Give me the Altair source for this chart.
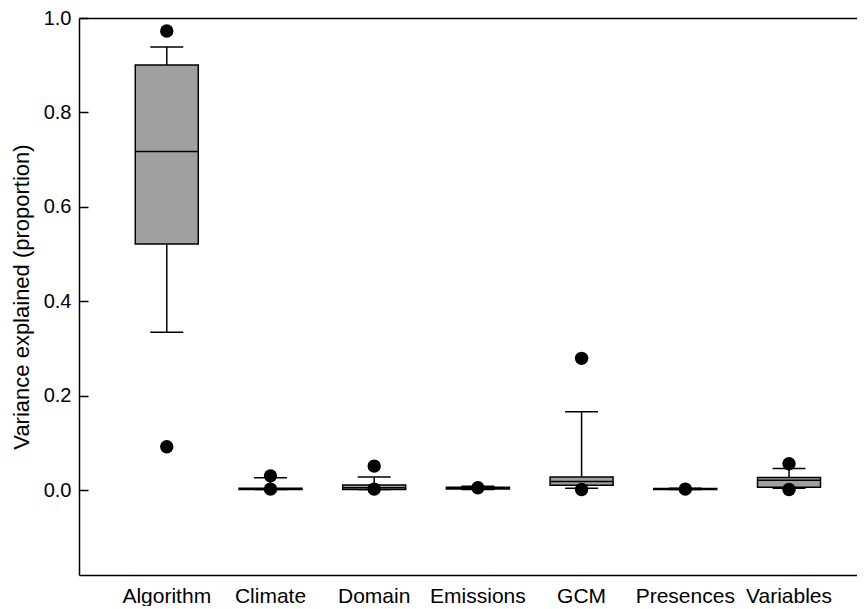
import altair as alt
import pandas as pd

categories = ["Algorithm", "Climate", "Domain", "Emissions", "GCM", "Presences", "Variables"]
lower_whisker = [0.334, 0.001, 0.001, 0.001, 0.0036, 0.001, 0.0036]
q1 = [0.521, 0.001, 0.001, 0.002, 0.0099, 0.001, 0.0057]
median = [0.717, 0.002, 0.005, 0.004, 0.018, 0.002, 0.0205]
q3 = [0.9006, 0.004, 0.0106, 0.006, 0.0275, 0.003, 0.0268]
upper_whisker = [0.9387, 0.026, 0.0275, 0.008, 0.166, 0.004, 0.0458]

outlier_category = ["Algorithm", "Algorithm", "Climate", "Climate", "Domain", "Domain",
                    "Emissions", "GCM", "GCM", "Presences", "Variables", "Variables"]
outlier_value = [0.9725, 0.0916, 0.030, 0.002, 0.0507, 0.002,
                 0.005, 0.279, 0.001, 0.002, 0.0556, 0.001]

y_ticks = [0.0, 0.2, 0.4, 0.6, 0.8, 1.0]

box_df = pd.DataFrame({
    "category": categories,
    "lower": lower_whisker,
    "q1": q1,
    "median": median,
    "q3": q3,
    "upper": upper_whisker,
})
out_df = pd.DataFrame({"category": outlier_category, "value": outlier_value})

FONT = "Liberation Sans"

xscale = alt.Scale(domain=categories, paddingInner=0, paddingOuter=0.251, align=0.69)
yscale = alt.Scale(domain=[-0.18, 1.0], nice=False, zero=False)

x_main = alt.X("category:N", scale=xscale, sort=categories,
               axis=alt.Axis(title=None, labelAngle=0, ticks=False, domainColor="black",
                             domainWidth=1.5, labelFontSize=21, labelPadding=10,
                             labelColor="black", labelFont=FONT))
x_top = alt.X("category:N", scale=xscale, sort=categories,
              axis=alt.Axis(orient="top", title=None, labels=False, ticks=False,
                            domainColor="black", domainWidth=1.5))
x_none = alt.X("category:N", scale=xscale, sort=categories, axis=None)

y_main_axis = alt.Axis(orient="left", title="Variance explained (proportion)", values=y_ticks,
                       format=".1f", ticks=False, domainColor="black", domainWidth=1.5,
                       labelFontSize=20, labelPadding=8, labelColor="black", labelFont=FONT,
                       titleFontSize=22, titleFontWeight="normal", titlePadding=10,
                       titleColor="black", titleFont=FONT, grid=False)
y_tick_axis = alt.Axis(orient="left", title=None, values=y_ticks, labels=False, domain=False,
                       ticks=True, tickSize=9, tickColor="black", tickWidth=1.5, offset=-9,
                       grid=False)

whisker = alt.Chart(box_df).mark_rule(color="black", strokeWidth=1.5).encode(
    x=x_main,
    y=alt.Y("lower:Q", scale=yscale, axis=y_main_axis),
    y2="upper:Q",
)
cap_top = alt.Chart(box_df).mark_tick(size=33, thickness=1.5, color="black", opacity=1).encode(
    x=x_none,
    y=alt.Y("upper:Q", scale=yscale, axis=y_tick_axis),
)
cap_bot = alt.Chart(box_df).mark_tick(size=33, thickness=1.5, color="black", opacity=1).encode(
    x=x_top,
    y=alt.Y("lower:Q", scale=yscale, axis=None),
)
box = alt.Chart(box_df).mark_bar(size=63, color="#a0a0a0", stroke="black", strokeWidth=1.5).encode(
    x=x_none,
    y=alt.Y("q1:Q", scale=yscale, axis=None),
    y2="q3:Q",
)
med = alt.Chart(box_df).mark_tick(size=63, thickness=1.5, color="black", opacity=1).encode(
    x=x_none,
    y=alt.Y("median:Q", scale=yscale, axis=None),
)
points = alt.Chart(out_df).mark_circle(size=180, color="black", opacity=1).encode(
    x=x_none,
    y=alt.Y("value:Q", scale=yscale, axis=None),
)

chart = alt.layer(whisker, cap_top, cap_bot, box, med, points).resolve_axis(
    x="independent", y="independent"
).properties(
    width=778, height=557,
    padding={"left": 2, "top": 0, "right": 0, "bottom": 0},
).configure(font=FONT).configure_view(stroke=None)

chart.save("out.html", embed_options={"renderer": "svg", "actions": False})
